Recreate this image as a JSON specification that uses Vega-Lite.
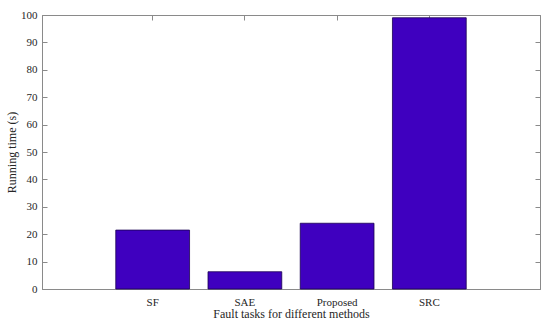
{
  "$schema": "https://vega.github.io/schema/vega-lite/v6.json",
  "width": 498,
  "height": 274,
  "autosize": {"type": "none"},
  "padding": {"left": 42, "top": 15, "right": 10, "bottom": 36},
  "background": "white",
  "config": {
    "view": {"stroke": "#8a8a8a", "strokeWidth": 1},
    "font": "Times New Roman",
    "style": {
      "guide-label": {"font": "Times New Roman", "fontSize": 11, "fill": "#262626"},
      "guide-title": {"font": "Times New Roman", "fontSize": 12, "fill": "#262626"}
    },
    "axis": {
      "labelFont": "Times New Roman",
      "titleFont": "Times New Roman",
      "labelFontSize": 11,
      "titleFontSize": 12,
      "titleFontWeight": "normal",
      "labelColor": "#262626",
      "titleColor": "#262626",
      "domainColor": "#8a8a8a",
      "tickColor": "#8a8a8a",
      "grid": false
    }
  },
  "data": {
    "values": [
      {"method": "SF", "time": 21.5},
      {"method": "SAE", "time": 6.3},
      {"method": "Proposed", "time": 24.0},
      {"method": "SRC", "time": 99.0}
    ]
  },
  "layer": [
    {
      "mark": {"type": "bar", "color": "#3f00bf", "stroke": "#1a0050", "strokeWidth": 0.8},
      "encoding": {
        "x": {
          "field": "method",
          "type": "nominal",
          "sort": ["SF", "SAE", "Proposed", "SRC"],
          "scale": {"paddingInner": 0.2, "paddingOuter": 0.8},
          "axis": {"title": "Fault tasks for different methods", "labelAngle": 0, "tickSize": -5, "labelPadding": 12, "titlePadding": 1, "labelFont": "Times New Roman", "titleFont": "Times New Roman", "labelFontSize": 11}
        },
        "y": {
          "field": "time",
          "type": "quantitative",
          "scale": {"domain": [0, 100], "nice": false},
          "axis": {"title": "Running time (s)", "values": [0,10,20,30,40,50,60,70,80,90,100], "tickSize": -5, "labelPadding": 10, "titlePadding": 2, "labelFont": "Times New Roman", "titleFont": "Times New Roman", "labelFontSize": 11}
        }
      }
    },
    {
      "mark": {"type": "bar", "opacity": 0},
      "encoding": {
        "x": {
          "field": "method",
          "type": "nominal",
          "sort": ["SF", "SAE", "Proposed", "SRC"],
          "axis": {"orient": "top", "title": null, "labels": false, "tickSize": -5}
        },
        "y": {
          "field": "time",
          "type": "quantitative",
          "axis": {"orient": "right", "title": null, "labels": false, "values": [0,10,20,30,40,50,60,70,80,90,100], "tickSize": -5}
        }
      }
    }
  ],
  "resolve": {"axis": {"x": "independent", "y": "independent"}}
}
